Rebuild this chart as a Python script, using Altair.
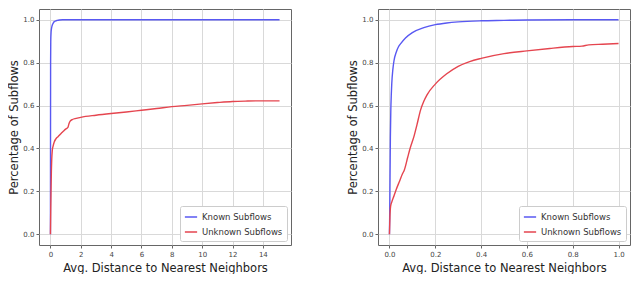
import altair as alt
import pandas as pd

series_names = ["Known Subflows", "Unknown Subflows"]
colors = ["#5858f2", "#e5454f"]

# Left panel
left_known_x = [0, 0.005, 0.01, 0.02, 0.04, 0.06, 0.1, 0.15, 0.2, 0.3, 0.45, 0.6, 0.8, 1.5, 5, 10, 15.1]
left_known_y = [0.0, 0.5, 0.8, 0.9, 0.94, 0.955, 0.97, 0.98, 0.987, 0.993, 0.997, 0.999, 1.0, 1.0, 1.0, 1.0, 1.0]
left_unknown_x = [0, 0.02, 0.04, 0.06, 0.085, 0.12, 0.17, 0.25, 0.36, 0.5, 0.7, 0.85, 1.0, 1.15, 1.22, 1.3, 1.45, 1.7, 2.0, 3.0, 4.0, 5.0, 6.0, 7.0, 8.0, 9.0, 10.0, 11.0, 12.0, 13.0, 14.0, 15.1]
left_unknown_y = [0.0, 0.12, 0.21, 0.29, 0.35, 0.39, 0.41, 0.43, 0.445, 0.455, 0.47, 0.48, 0.49, 0.498, 0.515, 0.527, 0.535, 0.54, 0.545, 0.555, 0.563, 0.57, 0.578, 0.586, 0.595, 0.601, 0.608, 0.614, 0.619, 0.621, 0.622, 0.622]

# Right panel
right_known_x = [0, 0.001, 0.002, 0.003, 0.004, 0.006, 0.008, 0.01, 0.015, 0.02, 0.03, 0.04, 0.05, 0.07, 0.1, 0.15, 0.2, 0.25, 0.3, 0.4, 0.5, 0.6, 0.8, 1.0]
right_known_y = [0.0, 0.08, 0.2, 0.33, 0.45, 0.58, 0.65, 0.7, 0.77, 0.81, 0.85, 0.875, 0.89, 0.915, 0.94, 0.963, 0.977, 0.985, 0.99, 0.995, 0.997, 0.999, 1.0, 1.0]
right_unknown_x = [0, 0.002, 0.005, 0.01, 0.02, 0.03, 0.045, 0.056, 0.065, 0.08, 0.09, 0.108, 0.12, 0.136, 0.15, 0.164, 0.2, 0.25, 0.3, 0.35, 0.4, 0.5, 0.6, 0.7, 0.8, 0.84, 0.87, 0.93, 1.0]
right_unknown_y = [0.0, 0.08, 0.13, 0.15, 0.18, 0.21, 0.25, 0.28, 0.3, 0.36, 0.4, 0.46, 0.51, 0.58, 0.62, 0.65, 0.7, 0.748, 0.783, 0.805, 0.82, 0.842, 0.855, 0.866, 0.875, 0.877, 0.883, 0.886, 0.889]

left_x_ticks = [0, 2, 4, 6, 8, 10, 12, 14]
right_x_ticks = [0.0, 0.2, 0.4, 0.6, 0.8, 1.0]
y_ticks = [0.0, 0.2, 0.4, 0.6, 0.8, 1.0]


def make_df(kx, ky, ux, uy):
    rows = []
    for i, (x, y) in enumerate(zip(kx, ky)):
        rows.append({"x": x, "y": y, "series": series_names[0], "order": i})
    for i, (x, y) in enumerate(zip(ux, uy)):
        rows.append({"x": x, "y": y, "series": series_names[1], "order": i})
    return pd.DataFrame(rows)


def panel(df, xdomain, xticks, xfmt):
    return alt.Chart(df).mark_line(strokeWidth=1.4, interpolate="monotone").encode(
        x=alt.X("x:Q", scale=alt.Scale(domain=xdomain, nice=False, zero=False),
                axis=alt.Axis(values=xticks, format=xfmt, title="Avg. Distance to Nearest Neighbors")),
        y=alt.Y("y:Q", scale=alt.Scale(domain=[-0.05, 1.05], nice=False, zero=False),
                axis=alt.Axis(values=y_ticks, format=".1f", title="Percentage of Subflows")),
        color=alt.Color("series:N", scale=alt.Scale(domain=series_names, range=colors),
                        legend=alt.Legend(title=None, orient="bottom-right")),
        order="order:Q",
    ).properties(width=252, height=236)


left = panel(make_df(left_known_x, left_known_y, left_unknown_x, left_unknown_y),
             [-0.755, 15.855], left_x_ticks, "d")
right = panel(make_df(right_known_x, right_known_y, right_unknown_x, right_unknown_y),
              [-0.05, 1.05], right_x_ticks, ".1f")

chart = alt.hconcat(left, right, spacing=55).resolve_scale(color="independent").properties(
    padding=0
).configure(font="DejaVu Sans").configure_view(
    stroke="#666666", strokeWidth=1
).configure_axis(
    grid=True, gridColor="#d9d9d9", gridWidth=1,
    domain=False, tickColor="#666666", tickSize=3,
    labelFontSize=7, labelColor="#444444", labelPadding=2,
    titleFontSize=11.5, titleFontWeight="normal", titleColor="#222222", titlePadding=3,
).configure_axisX(titlePadding=5).configure_legend(
    strokeColor="#cccccc", fillColor="white", padding=4, cornerRadius=2,
    symbolType="stroke", symbolSize=150, symbolStrokeWidth=1.5,
    labelFontSize=8.5, labelColor="#333333", offset=4, rowPadding=3,
)

chart.save("out.html", embed_options={"renderer": "svg", "actions": False})
